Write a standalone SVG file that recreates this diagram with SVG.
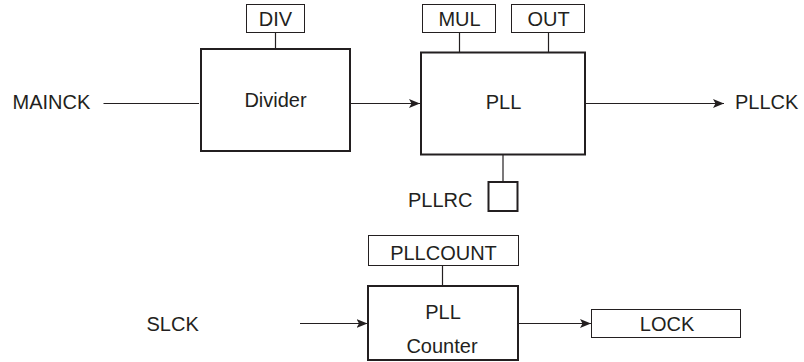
<svg xmlns="http://www.w3.org/2000/svg" width="804" height="362" viewBox="0 0 804 362">
<style>
  .thick { fill: #ffffff; stroke: #231f20; stroke-width: 2; }
  .thin { fill: #ffffff; stroke: #231f20; stroke-width: 1; }
  .wire { fill: none; stroke: #231f20; stroke-width: 1.2; }
  text { font-family: "Liberation Sans", Arial, sans-serif; font-size: 20px; fill: #231f20; }
  .c { text-anchor: middle; }
</style>
<defs>
  <marker id="arr" markerUnits="userSpaceOnUse" markerWidth="12" markerHeight="10" refX="11" refY="4.5" orient="auto">
    <path d="M0,0 L11,4.5 L0,9 L2.5,4.5 Z" fill="#231f20"/>
  </marker>
</defs>
<rect width="804" height="362" fill="#ffffff"/>
<g id="connectors">
  <line class="wire" x1="103.5" y1="103.5" x2="199" y2="103.5"/>
  <line class="wire" x1="351" y1="103.5" x2="420" y2="103.5" marker-end="url(#arr)"/>
  <line class="wire" x1="586" y1="103.5" x2="724" y2="103.5" marker-end="url(#arr)"/>
  <line class="wire" x1="300" y1="323.5" x2="367.5" y2="323.5" marker-end="url(#arr)"/>
  <line class="wire" x1="519" y1="323.5" x2="591" y2="323.5" marker-end="url(#arr)"/>
  <line class="wire" x1="275.5" y1="32.5" x2="275.5" y2="48"/>
  <line class="wire" x1="459.5" y1="32.5" x2="459.5" y2="52"/>
  <line class="wire" x1="548.5" y1="32.5" x2="548.5" y2="52"/>
  <line class="wire" x1="503" y1="155" x2="503" y2="181.5"/>
  <line class="wire" x1="442.5" y1="265.5" x2="442.5" y2="285"/>
</g>
<g id="mainck"><text x="12.5" y="109">MAINCK</text></g>
<g id="div"><rect class="thin" x="246.5" y="4.5" width="58" height="28"/><text class="c" x="275.5" y="26">DIV</text></g>
<g id="divider"><rect class="thick" x="201" y="49" width="149" height="102"/><text class="c" x="275.5" y="107">Divider</text></g>
<g id="mul"><rect class="thin" x="422.5" y="4.5" width="73" height="28"/><text class="c" x="459.5" y="26">MUL</text></g>
<g id="out"><rect class="thin" x="511.5" y="4.5" width="73" height="28"/><text class="c" x="548.5" y="26">OUT</text></g>
<g id="pll"><rect class="thick" x="421" y="52.5" width="164" height="102"/><text class="c" x="503.5" y="109">PLL</text></g>
<g id="pllck"><text x="735" y="109">PLLCK</text></g>
<g id="pllrc"><rect class="thick" x="488.5" y="182" width="29" height="29"/><text x="408" y="207">PLLRC</text></g>
<g id="pllcount"><rect class="thin" x="368.5" y="235.5" width="150" height="30"/><text class="c" x="443.5" y="259.5">PLLCOUNT</text></g>
<g id="slck"><text x="146.5" y="331">SLCK</text></g>
<g id="counter"><rect class="thick" x="368" y="286" width="150" height="74"/><text class="c" x="443" y="319">PLL</text><text class="c" x="442" y="352.5">Counter</text></g>
<g id="lock"><rect class="thin" x="591.5" y="309.5" width="149" height="28"/><text class="c" x="667" y="331">LOCK</text></g>
</svg>
